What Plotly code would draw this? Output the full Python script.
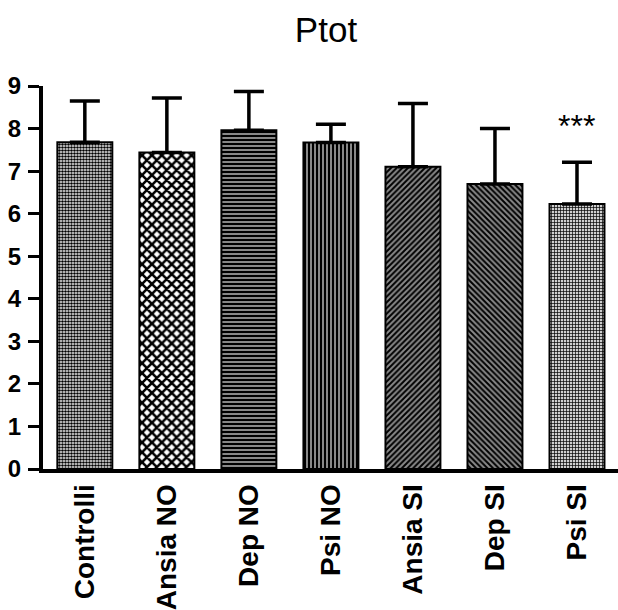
import plotly.graph_objects as go

# Group means and upper SEM/SD per category
categories = ["Controlli", "Ansia NO", "Dep NO", "Psi NO", "Ansia SI", "Dep SI", "Psi SI"]
means = [7.68, 7.44, 7.96, 7.67, 7.10, 6.70, 6.23]
errors = [0.97, 1.28, 0.91, 0.43, 1.49, 1.30, 0.98]
y_ticks = [0, 1, 2, 3, 4, 5, 6, 7, 8, 9]
significance = {"Psi SI": "***"}

# Fill patterns used to tell the groups apart
shapes = [".", "x", "-", "|", "/", "\\", "+"]
fg = ["#000000", "#000000", "#000000", "#000000", "#000000", "#000000", "#000000"]
bg = ["#ffffff", "#ffffff", "#888888", "#888888", "#8a8a8a", "#8a8a8a", "#cfcfcf"]
psize = [3, 7, 4, 4, 4, 4, 3]
solid = [0.6, 0.6, 0.5, 0.5, 0.5, 0.5, 0.4]

FONT = "Liberation Sans, Arial, sans-serif"

fig = go.Figure(
    go.Bar(
        x=categories,
        y=means,
        marker=dict(
            color="#ffffff",
            line=dict(color="#000000", width=2),
            pattern=dict(shape=shapes, fgcolor=fg, bgcolor=bg, size=psize,
                         solidity=solid, fillmode="replace"),
        ),
        error_y=dict(type="data", symmetric=False, array=errors,
                     arrayminus=[0] * len(errors), color="#000000",
                     thickness=3.5, width=15),
        width=0.67,
    )
)

for cat, txt in significance.items():
    i = categories.index(cat)
    fig.add_annotation(x=cat, y=means[i] + errors[i] + 0.85, text=txt,
                       showarrow=False, yanchor="middle",
                       font=dict(family=FONT, size=32, color="#000000"))

fig.update_layout(
    width=618, height=610,
    margin=dict(l=43, r=0, t=86, b=141),
    paper_bgcolor="#ffffff", plot_bgcolor="#ffffff",
    showlegend=False,
    title=dict(text="Ptot", x=326 / 618, xref="container", xanchor="center",
               y=1 - 30 / 610, yref="container", yanchor="middle",
               font=dict(family=FONT, size=35, color="#000000")),
)
fig.update_xaxes(
    range=[-0.51, 6.5], showline=True, linewidth=4, linecolor="#000000",
    ticks="", tickangle=-90, showgrid=False, zeroline=False,
    tickfont=dict(family=FONT, size=28, color="#000000", weight="bold"),
)
fig.update_yaxes(
    range=[0, 9], tickvals=y_ticks, showline=True, linewidth=4,
    linecolor="#000000", ticks="outside", ticklen=11, tickwidth=3,
    tickcolor="#000000", showgrid=False, zeroline=False, ticklabelstandoff=2,
    tickfont=dict(family=FONT, size=24, color="#000000", weight="bold"),
)

fig.write_html("out.html")
